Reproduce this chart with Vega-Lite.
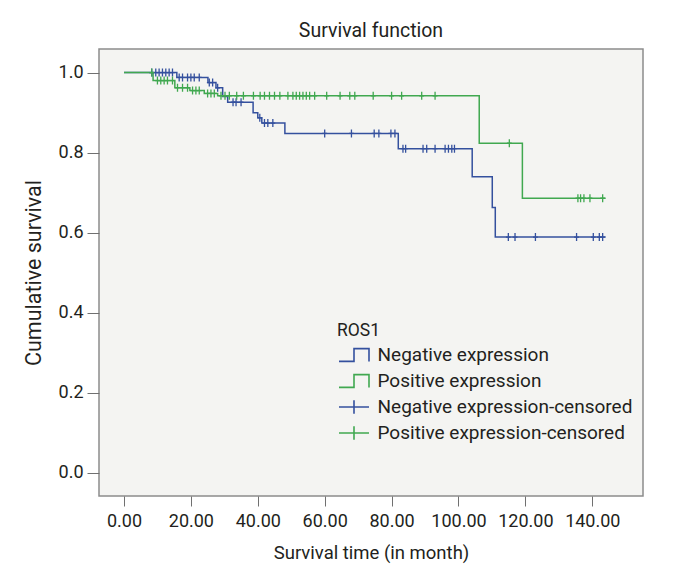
{
  "$schema": "https://vega.github.io/schema/vega-lite/v6.json",
  "width": 544,
  "height": 447,
  "autosize": "none",
  "padding": {"left": 99, "top": 49, "right": 33, "bottom": 87},
  "background": "white",
  "title": {
    "text": "Survival function",
    "font": "Roboto",
    "fontSize": 19.5,
    "fontWeight": "normal",
    "color": "#231f20",
    "anchor": "middle",
    "baseline": "alphabetic",
    "offset": -7
  },
  "config": {
    "view": {"fill": "#f4f4f2", "stroke": "#8c8c8c", "strokeWidth": 1.5},
    "axis": {
      "labelFont": "Roboto",
      "titleFont": "Roboto",
      "labelFontSize": 18,
      "titleFontSize": 18.5,
      "titleFontWeight": "normal",
      "labelColor": "#231f20",
      "titleColor": "#231f20",
      "tickColor": "#707070",
      "tickWidth": 1,
      "domain": false,
      "grid": false
    },
    "legend": {
      "labelFont": "Roboto",
      "titleFont": "Roboto"
    }
  },
  "datasets": {
    "curves": [
      {"group": "Negative expression", "t": 0, "s": 1.0},
      {"group": "Negative expression", "t": 15.8, "s": 0.988},
      {"group": "Negative expression", "t": 25.1, "s": 0.975},
      {"group": "Negative expression", "t": 27.5, "s": 0.962},
      {"group": "Negative expression", "t": 29.5, "s": 0.94},
      {"group": "Negative expression", "t": 31.0, "s": 0.926},
      {"group": "Negative expression", "t": 38.6, "s": 0.9},
      {"group": "Negative expression", "t": 40.0, "s": 0.887},
      {"group": "Negative expression", "t": 41.2, "s": 0.874},
      {"group": "Negative expression", "t": 48.1, "s": 0.848},
      {"group": "Negative expression", "t": 82.0, "s": 0.81},
      {"group": "Negative expression", "t": 104.1, "s": 0.74},
      {"group": "Negative expression", "t": 110.1, "s": 0.663},
      {"group": "Negative expression", "t": 111.0, "s": 0.589},
      {"group": "Negative expression", "t": 144.0, "s": 0.589},
      {"group": "Positive expression", "t": 0, "s": 1.0},
      {"group": "Positive expression", "t": 8.7, "s": 0.98},
      {"group": "Positive expression", "t": 15.2, "s": 0.962},
      {"group": "Positive expression", "t": 19.7, "s": 0.955},
      {"group": "Positive expression", "t": 24.0, "s": 0.948},
      {"group": "Positive expression", "t": 28.0, "s": 0.942},
      {"group": "Positive expression", "t": 106.2, "s": 0.8235},
      {"group": "Positive expression", "t": 119.1, "s": 0.686},
      {"group": "Positive expression", "t": 144.0, "s": 0.686}
    ],
    "censored": [
      {"group": "Negative expression", "t": 8.3, "s": 1.0},
      {"group": "Negative expression", "t": 9.5, "s": 1.0},
      {"group": "Negative expression", "t": 10.5, "s": 1.0},
      {"group": "Negative expression", "t": 11.5, "s": 1.0},
      {"group": "Negative expression", "t": 12.5, "s": 1.0},
      {"group": "Negative expression", "t": 13.5, "s": 1.0},
      {"group": "Negative expression", "t": 14.5, "s": 1.0},
      {"group": "Negative expression", "t": 16.5, "s": 0.988},
      {"group": "Negative expression", "t": 17.5, "s": 0.988},
      {"group": "Negative expression", "t": 19.0, "s": 0.988},
      {"group": "Negative expression", "t": 20.0, "s": 0.988},
      {"group": "Negative expression", "t": 21.0, "s": 0.988},
      {"group": "Negative expression", "t": 22.5, "s": 0.988},
      {"group": "Negative expression", "t": 25.5, "s": 0.975},
      {"group": "Negative expression", "t": 26.5, "s": 0.975},
      {"group": "Negative expression", "t": 28.0, "s": 0.962},
      {"group": "Negative expression", "t": 32.6, "s": 0.926},
      {"group": "Negative expression", "t": 33.5, "s": 0.926},
      {"group": "Negative expression", "t": 35.0, "s": 0.926},
      {"group": "Negative expression", "t": 40.6, "s": 0.887},
      {"group": "Negative expression", "t": 42.0, "s": 0.874},
      {"group": "Negative expression", "t": 43.0, "s": 0.874},
      {"group": "Negative expression", "t": 44.5, "s": 0.874},
      {"group": "Negative expression", "t": 60.0, "s": 0.848},
      {"group": "Negative expression", "t": 68.0, "s": 0.848},
      {"group": "Negative expression", "t": 74.8, "s": 0.848},
      {"group": "Negative expression", "t": 76.2, "s": 0.848},
      {"group": "Negative expression", "t": 79.8, "s": 0.848},
      {"group": "Negative expression", "t": 81.0, "s": 0.848},
      {"group": "Negative expression", "t": 83.4, "s": 0.81},
      {"group": "Negative expression", "t": 84.2, "s": 0.81},
      {"group": "Negative expression", "t": 89.4, "s": 0.81},
      {"group": "Negative expression", "t": 90.5, "s": 0.81},
      {"group": "Negative expression", "t": 93.0, "s": 0.81},
      {"group": "Negative expression", "t": 96.0, "s": 0.81},
      {"group": "Negative expression", "t": 97.0, "s": 0.81},
      {"group": "Negative expression", "t": 98.0, "s": 0.81},
      {"group": "Negative expression", "t": 98.8, "s": 0.81},
      {"group": "Negative expression", "t": 114.9, "s": 0.589},
      {"group": "Negative expression", "t": 116.9, "s": 0.589},
      {"group": "Negative expression", "t": 123.0, "s": 0.589},
      {"group": "Negative expression", "t": 135.3, "s": 0.589},
      {"group": "Negative expression", "t": 140.3, "s": 0.589},
      {"group": "Negative expression", "t": 142.1, "s": 0.589},
      {"group": "Negative expression", "t": 143.1, "s": 0.589},
      {"group": "Positive expression", "t": 8.3, "s": 1.0},
      {"group": "Positive expression", "t": 10.0, "s": 0.98},
      {"group": "Positive expression", "t": 11.0, "s": 0.98},
      {"group": "Positive expression", "t": 12.0, "s": 0.98},
      {"group": "Positive expression", "t": 13.0, "s": 0.98},
      {"group": "Positive expression", "t": 14.5, "s": 0.98},
      {"group": "Positive expression", "t": 16.0, "s": 0.962},
      {"group": "Positive expression", "t": 17.5, "s": 0.962},
      {"group": "Positive expression", "t": 19.0, "s": 0.962},
      {"group": "Positive expression", "t": 20.5, "s": 0.955},
      {"group": "Positive expression", "t": 21.5, "s": 0.955},
      {"group": "Positive expression", "t": 22.5, "s": 0.955},
      {"group": "Positive expression", "t": 25.0, "s": 0.948},
      {"group": "Positive expression", "t": 26.0, "s": 0.948},
      {"group": "Positive expression", "t": 27.0, "s": 0.948},
      {"group": "Positive expression", "t": 29.0, "s": 0.942},
      {"group": "Positive expression", "t": 30.2, "s": 0.942},
      {"group": "Positive expression", "t": 31.5, "s": 0.942},
      {"group": "Positive expression", "t": 33.7, "s": 0.942},
      {"group": "Positive expression", "t": 35.7, "s": 0.942},
      {"group": "Positive expression", "t": 38.7, "s": 0.942},
      {"group": "Positive expression", "t": 40.7, "s": 0.942},
      {"group": "Positive expression", "t": 42.0, "s": 0.942},
      {"group": "Positive expression", "t": 43.5, "s": 0.942},
      {"group": "Positive expression", "t": 45.0, "s": 0.942},
      {"group": "Positive expression", "t": 46.6, "s": 0.942},
      {"group": "Positive expression", "t": 49.0, "s": 0.942},
      {"group": "Positive expression", "t": 50.5, "s": 0.942},
      {"group": "Positive expression", "t": 51.5, "s": 0.942},
      {"group": "Positive expression", "t": 52.5, "s": 0.942},
      {"group": "Positive expression", "t": 53.5, "s": 0.942},
      {"group": "Positive expression", "t": 54.5, "s": 0.942},
      {"group": "Positive expression", "t": 55.5, "s": 0.942},
      {"group": "Positive expression", "t": 57.0, "s": 0.942},
      {"group": "Positive expression", "t": 60.6, "s": 0.942},
      {"group": "Positive expression", "t": 64.6, "s": 0.942},
      {"group": "Positive expression", "t": 67.5, "s": 0.942},
      {"group": "Positive expression", "t": 69.0, "s": 0.942},
      {"group": "Positive expression", "t": 74.5, "s": 0.942},
      {"group": "Positive expression", "t": 80.0, "s": 0.942},
      {"group": "Positive expression", "t": 83.0, "s": 0.942},
      {"group": "Positive expression", "t": 89.0, "s": 0.942},
      {"group": "Positive expression", "t": 93.0, "s": 0.942},
      {"group": "Positive expression", "t": 115.2, "s": 0.8235},
      {"group": "Positive expression", "t": 135.7, "s": 0.686},
      {"group": "Positive expression", "t": 136.5, "s": 0.686},
      {"group": "Positive expression", "t": 137.5, "s": 0.686},
      {"group": "Positive expression", "t": 139.3, "s": 0.686},
      {"group": "Positive expression", "t": 143.1, "s": 0.686}
    ],
    "legendItems": [
      {"group": "Negative expression"},
      {"group": "Positive expression"},
      {"group": "Negative expression-censored"},
      {"group": "Positive expression-censored"}
    ]
  },
  "encoding": {
    "x": {
      "field": "t",
      "type": "quantitative",
      "scale": {"domain": [-7.47, 155.16], "nice": false, "zero": false},
      "axis": {
        "title": "Survival time (in month)",
        "values": [0, 20, 40, 60, 80, 100, 120, 140],
        "format": ".2f",
        "tickSize": 10,
        "labelPadding": 6,
        "titleY": 62,
        "titleBaseline": "alphabetic"
      }
    },
    "y": {
      "field": "s",
      "type": "quantitative",
      "scale": {"domain": [-0.058, 1.059], "nice": false, "zero": false},
      "axis": {
        "title": "Cumulative survival",
        "titleFontSize": 21.5,
        "values": [0, 0.2, 0.4, 0.6, 0.8, 1.0],
        "format": ".1f",
        "tickSize": 12,
        "labelPadding": 4,
        "titleX": -59,
        "titleY": 223.5,
        "titleBaseline": "alphabetic"
      }
    }
  },
  "layer": [
    {
      "data": {"name": "legendItems"},
      "transform": [{"filter": {"field": "group", "equal": "none"}}],
      "mark": {"type": "point", "filled": false, "strokeWidth": 1.6, "opacity": 1},
      "encoding": {
        "x": {"value": 0},
        "y": {"value": 0},
        "color": {
          "field": "group",
          "type": "nominal",
          "scale": {
            "domain": ["Negative expression", "Positive expression", "Negative expression-censored", "Positive expression-censored"],
            "range": ["#34509e", "#40a850", "#34509e", "#40a850"]
          },
          "legend": {
            "title": "ROS1",
            "orient": "none",
            "legendX": 238,
            "legendY": 273,
            "padding": 0,
            "titleFontSize": 17.5,
            "titleFontWeight": "normal",
            "titleColor": "#231f20",
            "titlePadding": 6,
            "labelFontSize": 19,
            "labelColor": "#231f20",
            "labelLimit": 0,
            "labelOffset": 14,
            "symbolSize": 225,
            "symbolOffset": 7.5,
            "symbolStrokeWidth": 1.6,
            "rowPadding": 5
          }
        },
        "shape": {
          "field": "group",
          "type": "nominal",
          "scale": {
            "domain": ["Negative expression", "Positive expression", "Negative expression-censored", "Positive expression-censored"],
            "range": ["M-2,0.85H0V-0.85H2V0.85", "M-2,0.85H0V-0.85H2V0.85", "M-2,0H2M0,-0.9V0.9", "M-2,0H2M0,-0.9V0.9"]
          },
          "legend": {
            "title": "ROS1",
            "orient": "none",
            "legendX": 238,
            "legendY": 273,
            "padding": 0,
            "titleFontSize": 17.5,
            "titleFontWeight": "normal",
            "titleColor": "#231f20",
            "titlePadding": 6,
            "labelFontSize": 19,
            "labelColor": "#231f20",
            "labelLimit": 0,
            "labelOffset": 14,
            "symbolSize": 225,
            "symbolOffset": 7.5,
            "symbolStrokeWidth": 1.6,
            "rowPadding": 5
          }
        }
      }
    },
    {
      "data": {"name": "curves"},
      "mark": {"type": "line", "interpolate": "step-after", "strokeWidth": 1.5},
      "encoding": {
        "color": {"field": "group", "type": "nominal", "legend": null}
      }
    },
    {
      "data": {"name": "censored"},
      "mark": {"type": "point", "shape": "M-0.6,0H0.6M0,-1V1", "size": 64, "filled": false, "strokeWidth": 1.3, "opacity": 1},
      "encoding": {
        "color": {"field": "group", "type": "nominal", "legend": null}
      }
    }
  ]
}
